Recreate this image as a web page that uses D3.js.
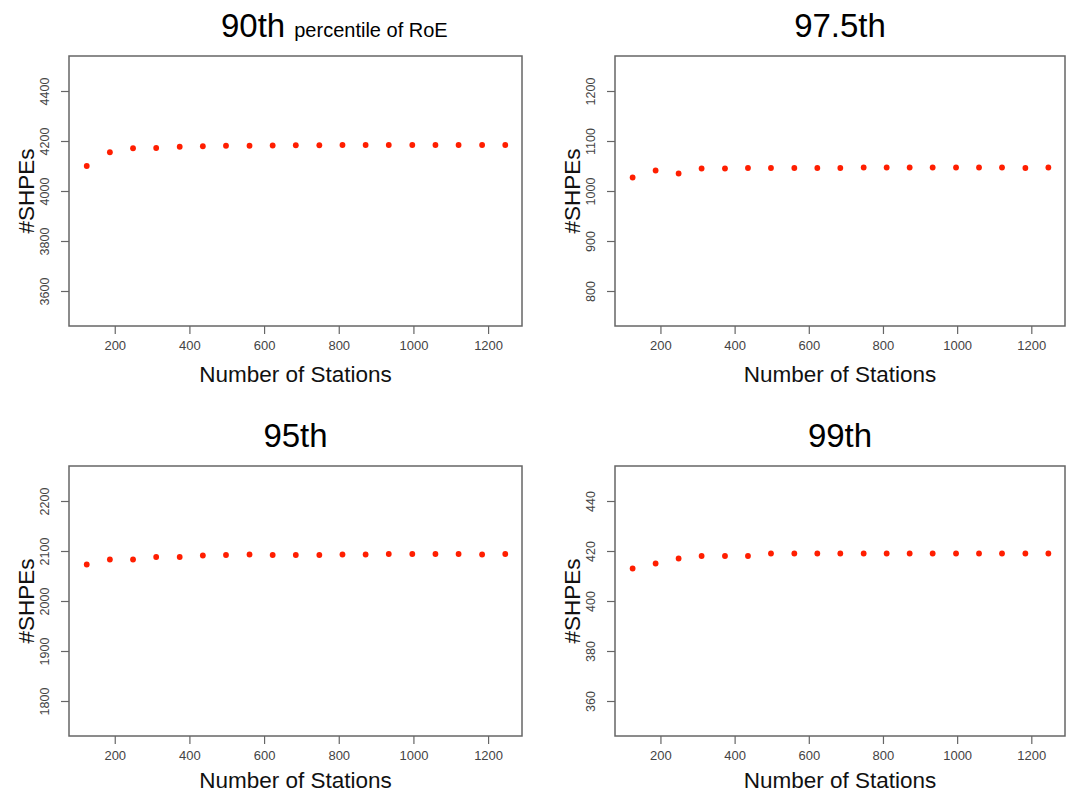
<!DOCTYPE html>
<html>
<head>
<meta charset="utf-8">
<script src="https://cdn.jsdelivr.net/npm/d3@7"></script>
<style>
  html, body { margin: 0; padding: 0; background: #fff; }
  svg { display: block; font-family: "Liberation Sans", Arial, Helvetica, sans-serif; }
</style>
</head>
<body>
<svg id="chart" width="1076" height="795"></svg>
<script>
// ---- data ----
const stations = [125, 187, 249, 311, 374, 436, 498, 561, 623, 685, 748, 810, 872, 934, 997, 1059, 1121, 1184, 1246];
const shpe90  = [4100, 4155, 4171, 4172, 4177, 4179, 4181, 4181, 4182, 4183, 4183, 4184, 4184, 4184, 4184, 4184, 4184, 4184, 4184];
const shpe975 = [1027, 1041, 1035, 1045, 1045, 1046, 1046, 1046, 1046, 1046, 1047, 1047, 1047, 1047, 1047, 1047, 1047, 1046, 1047];
const shpe95  = [2073, 2083, 2083, 2088, 2088, 2091, 2092, 2093, 2092, 2092, 2092, 2093, 2093, 2094, 2094, 2094, 2094, 2093, 2094];
const shpe99  = [413, 415, 417, 418, 418, 418, 419, 419, 419, 419, 419, 419, 419, 419, 419, 419, 419, 419, 419];
const xTicks = [200, 400, 600, 800, 1000, 1200];
const yTicks90  = [3600, 3800, 4000, 4200, 4400];
const yTicks975 = [800, 900, 1000, 1100, 1200];
const yTicks95  = [1800, 1900, 2000, 2100, 2200];
const yTicks99  = [360, 380, 400, 420, 440];
const ylim90  = [3500, 4500];
const ylim975 = [750, 1250];
const ylim95  = [1750, 2250];
const ylim99  = [350, 450];
const titles = ["90th", "97.5th", "95th", "99th"];
const titleNote = "percentile of RoE";
const xLabel = "Number of Stations";
const yLabel = "#SHPEs";

// ---- layout ----
const svg = d3.select("#chart");
const panels = [
  { values: shpe90,  ticks: yTicks90,  ylim: ylim90,  title: titles[0], left: 69,  right: 522,  top: 56,  bottom: 326, xlab: 56 },
  { values: shpe975, ticks: yTicks975, ylim: ylim975, title: titles[1], left: 615, right: 1065, top: 56,  bottom: 326, xlab: 56 },
  { values: shpe95,  ticks: yTicks95,  ylim: ylim95,  title: titles[2], left: 69,  right: 522,  top: 466, bottom: 736, xlab: 52 },
  { values: shpe99,  ticks: yTicks99,  ylim: ylim99,  title: titles[3], left: 615, right: 1065, top: 466, bottom: 736, xlab: 52 }
];

function ext(lo, hi) { const d = (hi - lo) * 0.04; return [lo - d, hi + d]; }

const axisColor = "#666";
const labelColor = "#444";

panels.forEach((p, i) => {
  const x = d3.scaleLinear().domain(ext(d3.min(stations), d3.max(stations))).range([p.left + 1, p.right]);
  const y = d3.scaleLinear().domain(ext(p.ylim[0], p.ylim[1])).range([p.bottom, p.top]);
  const g = svg.append("g");

  // x axis
  const xa = g.append("g").attr("transform", `translate(0,${p.bottom})`)
    .call(d3.axisBottom(x).tickValues(xTicks).tickSize(8).tickPadding(7).tickFormat(d3.format("d")));
  xa.select(".domain").remove();
  xa.selectAll("line").attr("stroke", axisColor).attr("stroke-width", 1.2);
  xa.selectAll("text").attr("fill", labelColor).attr("font-size", 13).attr("font-family", "Liberation Sans, Arial, sans-serif");

  // y axis
  const ya = g.append("g").attr("transform", `translate(${p.left},0)`)
    .call(d3.axisLeft(y).tickValues(p.ticks).tickSize(8).tickFormat(d3.format("d")));
  ya.select(".domain").remove();
  ya.selectAll("line").attr("stroke", axisColor).attr("stroke-width", 1.2);
  ya.selectAll("text")
    .attr("fill", labelColor).attr("font-size", 12.5).attr("font-family", "Liberation Sans, Arial, sans-serif")
    .attr("text-anchor", "middle").attr("dy", null).attr("x", null).attr("y", null)
    .attr("transform", "translate(-20.5,0) rotate(-90)");

  // box
  g.append("rect")
    .attr("x", p.left).attr("y", p.top)
    .attr("width", p.right - p.left).attr("height", p.bottom - p.top)
    .attr("fill", "none").attr("stroke", axisColor).attr("stroke-width", 1.5);

  // points
  g.append("g").selectAll("circle").data(stations).join("circle")
    .attr("cx", d => x(d))
    .attr("cy", (d, k) => y(p.values[k]))
    .attr("r", 2.9)
    .attr("fill", "#ff1e00");

  // x label
  const cx = (p.left + p.right) / 2;
  g.append("text").attr("x", cx).attr("y", p.bottom + p.xlab)
    .attr("text-anchor", "middle").attr("font-size", 22.5).attr("fill", "#111")
    .text(xLabel);

  // y label
  g.append("text")
    .attr("transform", `translate(${p.left - 35},${(p.top + p.bottom) / 2}) rotate(-90)`)
    .attr("text-anchor", "middle").attr("font-size", 22.5).attr("fill", "#111")
    .text(yLabel);

  // title
  if (i === 0) {
    const t = g.append("text").attr("x", 221).attr("y", p.top - 19).attr("fill", "#000");
    t.append("tspan").attr("font-size", 33).text(p.title);
    t.append("tspan").attr("font-size", 20).attr("dx", 9).text(titleNote);
  } else {
    g.append("text").attr("x", cx).attr("y", p.top - 19)
      .attr("text-anchor", "middle").attr("font-size", 33).attr("fill", "#000")
      .text(p.title);
  }
});
</script>
</body>
</html>
